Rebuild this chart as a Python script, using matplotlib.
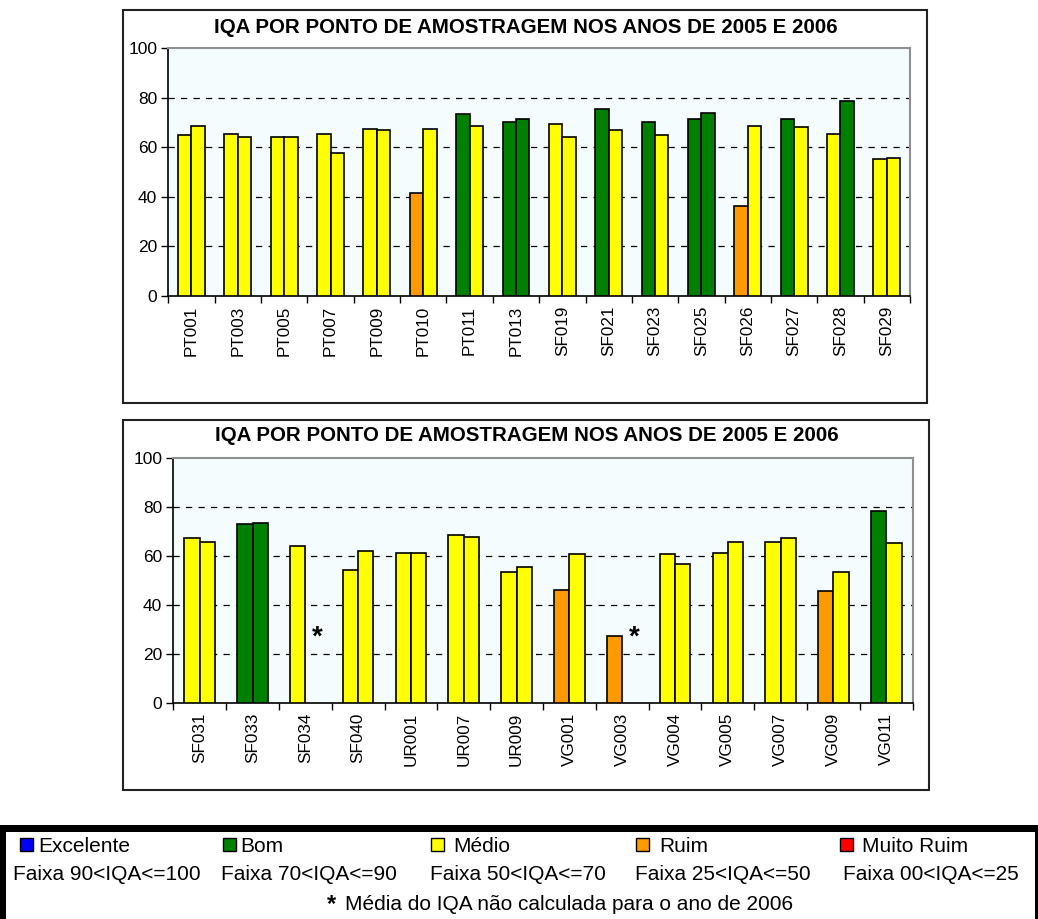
import numpy as np
import matplotlib
matplotlib.use("Agg")
import matplotlib.pyplot as plt
from matplotlib.patches import Rectangle

plt.rcParams['font.family'] = ['Liberation Sans', 'DejaVu Sans']

# ---------------- data ----------------
title = "IQA POR PONTO DE AMOSTRAGEM NOS ANOS DE 2005 E 2006"

points_top = ['PT001', 'PT003', 'PT005', 'PT007', 'PT009', 'PT010', 'PT011', 'PT013',
              'SF019', 'SF021', 'SF023', 'SF025', 'SF026', 'SF027', 'SF028', 'SF029']
iqa2005_top = [65.0, 65.5, 64.3, 65.5, 67.6, 41.7, 73.4, 70.1,
               69.4, 75.4, 70.1, 71.5, 36.5, 71.5, 65.5, 55.2]
iqa2006_top = [68.8, 64.3, 64.3, 57.9, 66.9, 67.6, 68.8, 71.5,
               64.3, 66.9, 65.0, 74.0, 68.8, 68.2, 78.6, 55.9]

points_bot = ['SF031', 'SF033', 'SF034', 'SF040', 'UR001', 'UR007', 'UR009',
              'VG001', 'VG003', 'VG004', 'VG005', 'VG007', 'VG009', 'VG011']
iqa2005_bot = [67.3, 73.2, 64.1, 54.3, 61.5, 68.6, 53.6,
               46.4, 27.5, 60.8, 61.5, 66.0, 45.9, 78.5]
iqa2006_bot = [66.0, 73.7, None, 62.0, 61.5, 68.0, 55.6,
               60.8, None, 56.9, 66.0, 67.3, 53.6, 65.3]

classes = ['Excelente', 'Bom', 'Médio', 'Ruim', 'Muito Ruim']
class_ranges = ['Faixa 90<IQA<=100', 'Faixa 70<IQA<=90', 'Faixa 50<IQA<=70',
                'Faixa 25<IQA<=50', 'Faixa 00<IQA<=25']
class_lower = [90, 70, 50, 25, 0]
class_colors = ['#0000FF', '#008000', '#FFFF00', '#FF9900', '#FF0000']
star_note = 'Média do IQA não calculada para o ano de 2006'
star_level = 27

# ---------------- figure ----------------
W, H = 1038, 919
fig = plt.figure(figsize=(W / 100, H / 100), dpi=100)


def fx(x):
    return x / W


def fy(y):
    return 1 - y / H


def color_for(v):
    for lo, c in zip(class_lower, class_colors):
        if v > lo:
            return c
    return class_colors[-1]


def draw_chart(box, ax_rect, title_y, cats, v05, v06):
    x0, y0, x1, y1 = box
    fig.patches.append(Rectangle((fx(x0), fy(y1)), fx(x1 - x0), (y1 - y0) / H,
                                 transform=fig.transFigure, fill=False,
                                 edgecolor='#222222', linewidth=1.5, zorder=0))
    fig.text(fx((x0 + x1) / 2 + 1), fy(title_y), title, ha='center', va='center',
             fontsize=14.8, fontweight='bold')
    l, t, r, b = ax_rect
    ax = fig.add_axes([fx(l), fy(b), fx(r - l), (b - t) / H])
    ax.set_facecolor('#F4FCFD')
    n = len(cats)
    x = np.arange(n)
    w = 0.29
    for i in range(n):
        a = v05[i]
        ax.bar(x[i] - w / 2, a, width=w, color=color_for(a), edgecolor='black',
               linewidth=1.2, zorder=3)
        c = v06[i]
        if c is None:
            ax.text(x[i] + w / 2 + 0.08, star_level, '*', ha='center', va='center',
                    fontsize=20, fontweight='bold', zorder=4)
        else:
            ax.bar(x[i] + w / 2, c, width=w, color=color_for(c), edgecolor='black',
                   linewidth=1.2, zorder=3)
    ax.set_xlim(-0.5, n - 0.5)
    ax.set_ylim(0, 100)
    ax.set_yticks([0, 20, 40, 60, 80, 100])
    ax.set_yticklabels(['0', '20', '40', '60', '80', '100'], fontsize=12.5)
    for g in [20, 40, 60, 80]:
        ax.axhline(g, color='black', linestyle=(0, (5, 5)), linewidth=0.9, zorder=1)
    ax.set_xticks(x)
    ax.set_xticklabels(cats, rotation=90, fontsize=12.3)
    ax.set_xticks(np.arange(n + 1) - 0.5, minor=True)
    ax.tick_params(axis='x', which='major', length=0, pad=7)
    ax.tick_params(axis='x', which='minor', length=5, width=1, direction='out')
    ax.tick_params(axis='y', length=5, width=1, direction='out', pad=3)
    for s in ['top', 'right']:
        ax.spines[s].set_color('#909090')
        ax.spines[s].set_linewidth(1.5)
    for s in ['left', 'bottom']:
        ax.spines[s].set_color('black')
        ax.spines[s].set_linewidth(1.2)
    return ax


draw_chart((123, 10, 927, 403), (168.3, 48.3, 910, 296), 27.5,
           points_top, iqa2005_top, iqa2006_top)
draw_chart((123, 420, 929, 790), (173.3, 458.3, 912.7, 703.3), 436,
           points_bot, iqa2005_bot, iqa2006_bot)


# ---------------- legend block ----------------
def frect(x, y, w, h, **kw):
    fig.patches.append(Rectangle((fx(x), fy(y + h)), w / W, h / H,
                                 transform=fig.transFigure, **kw))


frect(0, 825, W, 7, facecolor='black', edgecolor='none')
frect(0, 825, 6, H - 825, facecolor='black', edgecolor='none')
frect(W - 3, 825, 3, H - 825, facecolor='black', edgecolor='none')

square_x = [20, 223, 431, 636, 840]
label_x = [38, 240, 453, 659, 862]
range_x = [13, 221, 430, 635, 843]
for sx, lx, rx, name, rng, col in zip(square_x, label_x, range_x, classes,
                                       class_ranges, class_colors):
    frect(sx, 838, 13, 13, facecolor=col, edgecolor='black', linewidth=1)
    fig.text(fx(lx), fy(852), name, ha='left', va='baseline', fontsize=15)
    fig.text(fx(rx), fy(880), rng, ha='left', va='baseline', fontsize=15)

fig.text(fx(327), fy(911), '*', ha='left', va='baseline', fontsize=17, fontweight='bold')
fig.text(fx(345), fy(910), star_note, ha='left', va='baseline', fontsize=15)

fig.savefig('out.png', dpi=100)
